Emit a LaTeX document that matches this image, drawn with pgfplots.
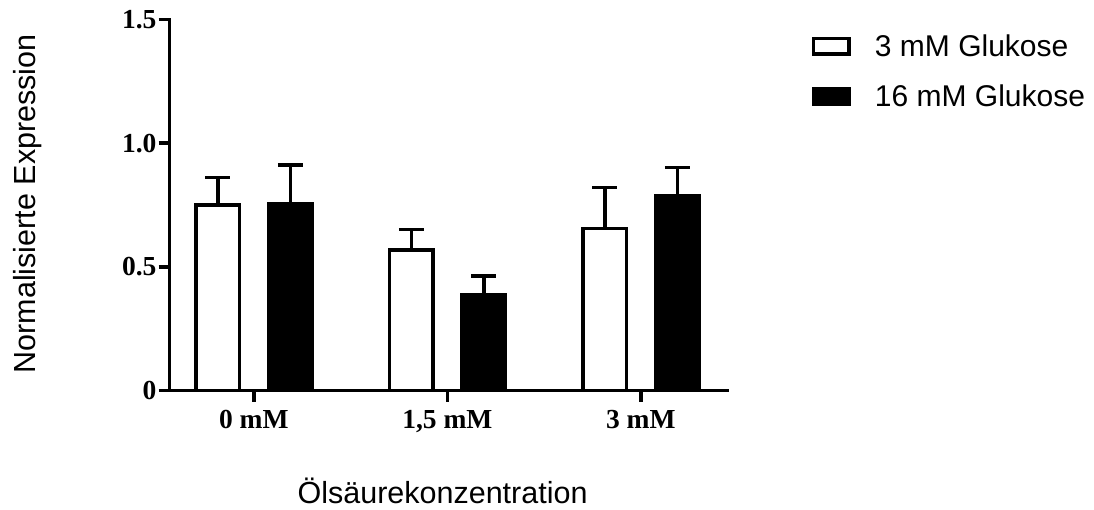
\documentclass[border=0pt]{standalone}
\usepackage{fontspec}
\setmainfont{Liberation Serif}
\newfontfamily\arial{Liberation Sans}
\usepackage{pgfplots}
\pgfplotsset{compat=1.18}
\begin{document}
\begin{tikzpicture}
\useasboundingbox (-169.7bp,-119.3bp) rectangle (924.3bp,390.7bp);
\begin{axis}[
  at={(0,0)}, anchor=south west,
  width=558bp, height=371.4bp, scale only axis,
  xmin=-0.435, xmax=2.449, ymin=0, ymax=1.5,
  axis x line=bottom, axis y line=left,
  axis line style={-, line width=3.4bp, line cap=rect},
  xtick={0,1,2}, xticklabels={0 mM, {1,5 mM}, 3 mM},
  ytick={0,0.5,1,1.5}, yticklabels={0,0.5,1.0,1.5},
  tick align=outside, major tick length=11bp,
  tick style={line width=3.4bp, black},
  minor tick num=0,
  /pgf/number format/assume math mode=true,
  tick label style={font=\fontsize{27.5bp}{30bp}\selectfont\bfseries},
  yticklabel style={inner sep=2bp},
  xticklabel style={inner sep=8bp},
  xlabel={Ölsäurekonzentration},
  ylabel={Normalisierte Expression},
  label style={font=\arial\fontsize{30.5bp}{34bp}\selectfont},
  xlabel style={at={(axis description cs:0.489,-0.305)}, anchor=base},
  ylabel style={at={(axis description cs:-0.254,0.503)}, anchor=center},
  legend image code/.code={\draw[#1, line width=3.4bp] (0bp,-7.8bp) rectangle (35.6bp,7.8bp); \path (59.9bp,0bp);},
  legend style={at={(axis description cs:1.1505,0.959)}, anchor=north west,
    draw=none, fill=none, inner sep=0pt, outer sep=0pt, row sep=27bp,
    font=\arial\fontsize{30bp}{34bp}\selectfont, nodes={inner sep=0pt}},
  legend cell align=left,
  error bars/error bar style={line width=3.4bp, black},
  error bars/error mark options={rotate=90, mark size=12.5bp, line width=3.4bp, black},
]
\addplot[ybar, bar width=43.5bp, bar shift=0pt, draw=black, fill=white, line width=3.4bp,
  error bars/.cd, y dir=plus, y explicit]
  coordinates {(-0.186,0.750) +- (0,0.110) (0.814,0.568) +- (0,0.083) (1.814,0.655) +- (0,0.165)};
\addlegendentry{3 mM Glukose}
\addplot[ybar, bar width=43.5bp, bar shift=0pt, draw=black, fill=black, line width=3.4bp,
  error bars/.cd, y dir=plus, y explicit]
  coordinates {(0.189,0.756) +- (0,0.155) (1.189,0.386) +- (0,0.077) (2.189,0.786) +- (0,0.116)};
\addlegendentry{16 mM Glukose}
\end{axis}
\end{tikzpicture}
\end{document}
